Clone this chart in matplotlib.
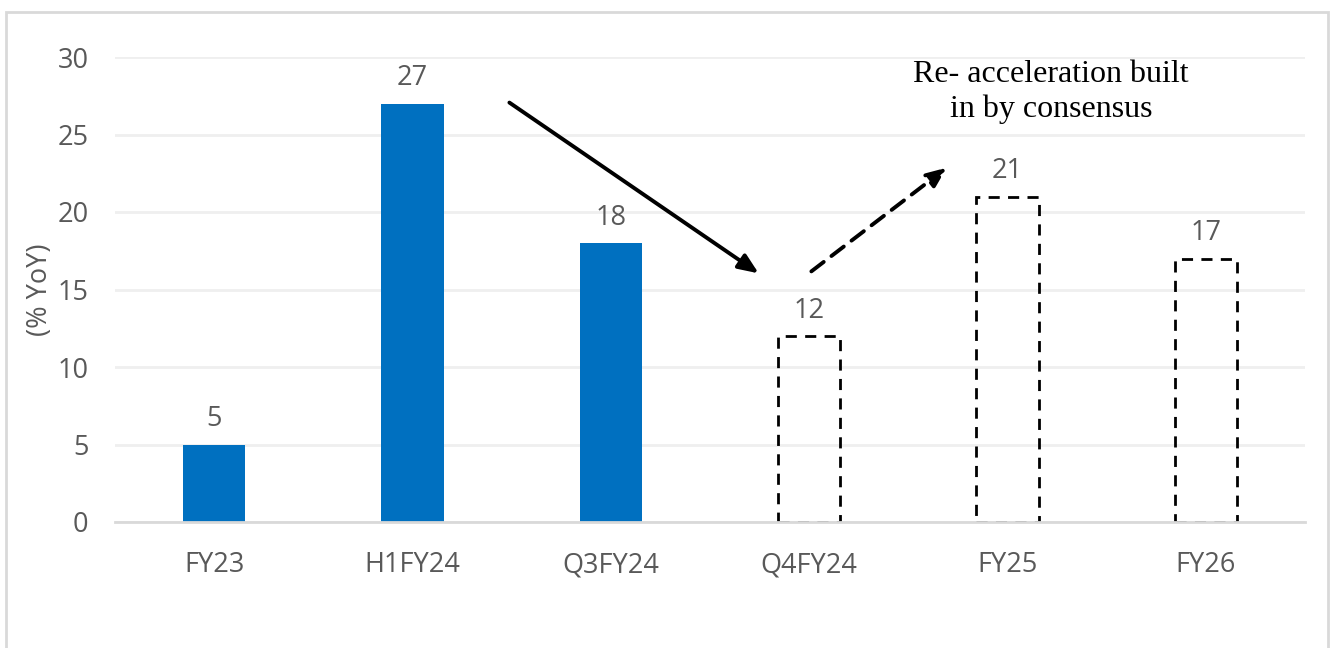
import matplotlib as mpl
import matplotlib.pyplot as plt
from matplotlib.patches import Rectangle


# Data
categories = ['FY23', 'H1FY24', 'Q3FY24', 'Q4FY24', 'FY25', 'FY26']
actual_values = [5, 27, 18]
consensus_values = [12, 21, 17]
y_ticks = [0, 5, 10, 15, 20, 25, 30]

mpl.rcParams['font.family'] = ['Open Sans', 'DejaVu Sans']

fig = plt.figure(figsize=(13.38, 6.48), dpi=100)
ax = fig.add_axes([115 / 1338, 126 / 648, 1190 / 1338, 465 / 648])

# Outer frame, like the Excel chart area
fig.add_artist(Rectangle((6 / 1338, -0.01), 1322 / 1338, 642 / 648, transform=fig.transFigure,
                         facecolor='none', edgecolor='#d9d9d9', lw=2))

bar_w = 0.315
blue = '#0070c0'
grey_txt = '#595959'

n_act = len(actual_values)
x_act = list(range(n_act))
x_cons = list(range(n_act, len(categories)))

ax.bar(x_act, actual_values, width=bar_w, color=blue, zorder=3)
ax.bar(x_cons, consensus_values, width=bar_w, facecolor='none', edgecolor='black',
       linestyle=(0, (4, 3)), linewidth=2, zorder=3)

# Data labels
for x, v in zip(x_act + x_cons, actual_values + consensus_values):
    ax.annotate(str(v), (x, v), xytext=(0, 8), textcoords='offset points',
                ha='center', va='bottom', fontsize=19.5, color=grey_txt)

ax.set_xlim(-0.5, len(categories) - 0.5)
ax.set_ylim(0, 30)
ax.set_yticks(y_ticks)
ax.set_xticks(range(len(categories)))
ax.set_xticklabels(categories)
ax.tick_params(axis='both', length=0, labelsize=19.5, labelcolor=grey_txt)
ax.tick_params(axis='x', pad=21)
ax.tick_params(axis='y', pad=19)
ax.yaxis.grid(True, color='#efefef', lw=2, zorder=0)
ax.set_axisbelow(True)
for s in ['top', 'right', 'left']:
    ax.spines[s].set_visible(False)
ax.spines['bottom'].set_color('#d9d9d9')
ax.spines['bottom'].set_linewidth(2)
ax.spines['bottom'].set_zorder(4)

fig.text(40 / 1338, 1 - 290 / 648, '(% YoY)', rotation=90, ha='center', va='center',
         fontsize=19.5, color=grey_txt)

# Arrows
ax.annotate('', xy=(2.757, 15.94), xytext=(1.477, 27.16),
            arrowprops=dict(arrowstyle='-|>,head_length=1.2,head_width=0.5', color='black', lw=2.8))
ax.annotate('', xy=(3.705, 22.97), xytext=(3.0, 16.06),
            arrowprops=dict(arrowstyle='-|>,head_length=1.2,head_width=0.5', color='black', lw=2.8,
                            linestyle=(0, (4, 2.5))))

ax.text(4.219, 27.75, 'Re- acceleration built\nin by consensus', ha='center', va='center',
        fontsize=23, family=['Liberation Serif'], color='black', linespacing=1.25)

fig.savefig('out.png', dpi=100, facecolor='white')
